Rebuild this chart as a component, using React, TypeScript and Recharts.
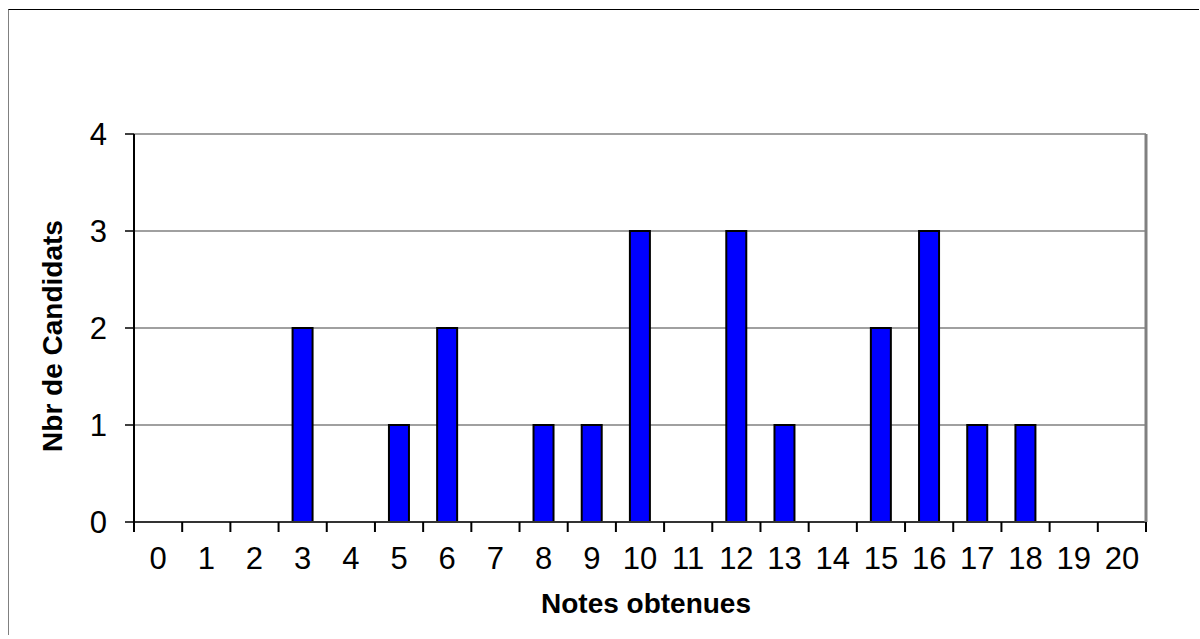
import React from 'react';
import { BarChart, Bar, XAxis, YAxis, CartesianGrid, Label } from 'recharts';

const notes = [0, 1, 2, 3, 4, 5, 6, 7, 8, 9, 10, 11, 12, 13, 14, 15, 16, 17, 18, 19, 20];
const candidats = [0, 0, 0, 2, 0, 1, 2, 0, 1, 1, 3, 0, 3, 1, 0, 2, 3, 1, 1, 0, 0];
const boundaryTicks = [-0.5, 0.5, 1.5, 2.5, 3.5, 4.5, 5.5, 6.5, 7.5, 8.5, 9.5, 10.5, 11.5, 12.5, 13.5, 14.5, 15.5, 16.5, 17.5, 18.5, 19.5, 20.5];
const yTicks = [0, 1, 2, 3, 4];
const xDomain = [-0.5, 20.5];
const yDomain = [0, 4];
const xTitle = 'Notes obtenues';
const yTitle = 'Nbr de Candidats';

const data = notes.map((n, i) => ({ note: n, nb: candidats[i] }));

const FONT = '"Liberation Sans", Arial, sans-serif';

const EmptyTick = () => <g />;

const XTitle = (props: any) => {
  const vb = props.viewBox || {};
  return (
    <text x={vb.x + vb.width / 2 + 6} y={603} textAnchor="middle" fontFamily={FONT} fontSize={28} fontWeight="bold" fill="#000">
      {xTitle}
    </text>
  );
};

const YTitle = (props: any) => {
  const vb = props.viewBox || {};
  const cx = 53;
  const cy = vb.y + vb.height / 2 + 8;
  return (
    <text x={cx} y={cy} transform={`rotate(-90, ${cx}, ${cy})`} textAnchor="middle" fontFamily={FONT} fontSize={28} fontWeight="bold" fill="#000">
      {yTitle}
    </text>
  );
};

export default function App() {
  return (
    <div
      style={{
        position: 'absolute',
        left: 8,
        top: 9,
        width: 1190,
        height: 625,
        borderTop: '1px solid #000',
        borderLeft: '1px solid #808080',
        overflow: 'hidden',
        background: '#fff',
      }}
    >
      <BarChart
        width={1180}
        height={620}
        data={data}
        margin={{ top: 124, right: 42, bottom: 47, left: 20 }}
        style={{ fontFamily: FONT }}
      >
        <CartesianGrid horizontal={true} vertical={false} stroke="#808080" strokeWidth={1.5} yAxisId={0} xAxisId="a" />
        <XAxis
          xAxisId="a"
          dataKey="note"
          type="number"
          domain={xDomain}
          ticks={boundaryTicks}
          interval={0}
          tick={EmptyTick}
          tickSize={10}
          tickLine={{ stroke: '#000', strokeWidth: 2 }}
          axisLine={{ stroke: '#333', strokeWidth: 2 }}
          height={2}
          allowDataOverflow
        />
        <XAxis
          xAxisId="b"
          dataKey="note"
          type="number"
          domain={xDomain}
          ticks={notes}
          interval={0}
          tickLine={false}
          axisLine={false}
          tickSize={8}
          tickMargin={15}
          tick={{ fontSize: 31, fill: '#000', fontFamily: FONT }}
          height={59}
          allowDataOverflow
        >
          <Label content={XTitle} />
        </XAxis>
        <YAxis
          yAxisId={0}
          domain={yDomain}
          ticks={yTicks}
          interval={0}
          width={105}
          tickSize={9}
          tickMargin={18}
          tickLine={{ stroke: '#000', strokeWidth: 1.5 }}
          axisLine={{ stroke: '#000', strokeWidth: 2 }}
          tick={{ fontSize: 31, fill: '#000', fontFamily: FONT }}
        >
          <Label content={YTitle} />
        </YAxis>
        <YAxis
          yAxisId="r"
          orientation="right"
          domain={yDomain}
          width={1}
          tick={false}
          tickLine={false}
          axisLine={{ stroke: '#808080', strokeWidth: 3 }}
        />
        <Bar
          dataKey="nb"
          xAxisId="a"
          yAxisId={0}
          barSize={20}
          fill="#0000FF"
          stroke="#000"
          strokeWidth={2}
          isAnimationActive={false}
        />
      </BarChart>
    </div>
  );
}
